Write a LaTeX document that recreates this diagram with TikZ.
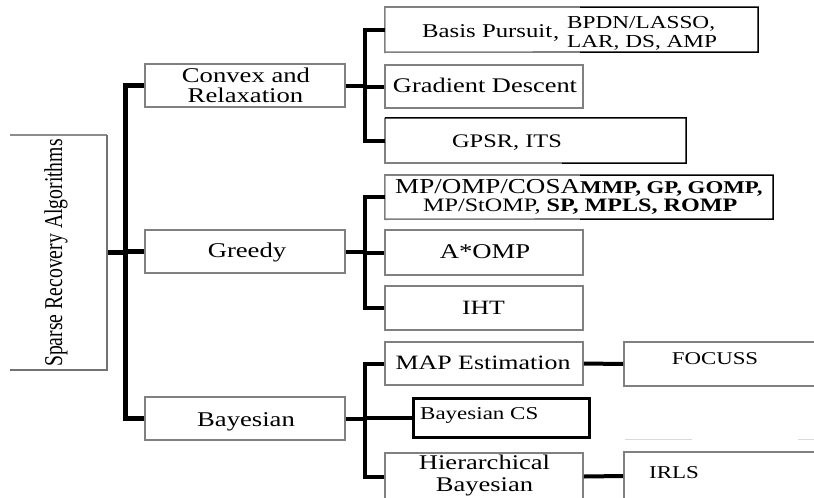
\documentclass[tikz,border=0pt]{standalone}
\usepackage{fontspec}
\setmainfont{Liberation Serif}
\usepackage{graphicx}
\newcommand{\T}[2]{\scalebox{1.27}[1]{\fontsize{#1}{#1}\selectfont #2}}
\tikzset{
  gbox/.style={draw=black!50, line width=1.6pt, fill=white, inner sep=0pt},
  ebox/.style={fill=white, inner sep=0pt},
  gline/.style={draw=black!50, line width=1.6pt},
  bline/.style={draw=black, line width=1.5pt},
  conn/.style={draw=black, line width=4pt, line join=miter},
  trunk/.style={draw=black, line width=5pt, line join=miter},
  txt/.style={inner sep=0pt, text=black},
}
\begin{document}
\begin{tikzpicture}[x=1pt,y=-1pt]
\useasboundingbox (0,0) rectangle (814,498);
\fill[white] (0,0) rectangle (814,498);

% junction coordinates
\coordinate (t0) at (125,0);
\coordinate (t1) at (365,0);

% root placeholder
\node[inner sep=0pt, minimum width=97pt, minimum height=235pt] (root) at (58.5,252.5) {};

\node[gbox, minimum width=200pt, minimum height=43pt] (conv) at (245,85.5) {};
\node[gbox, minimum width=200pt, minimum height=43pt] (greedy) at (245,251.5) {};
\node[gbox, minimum width=200pt, minimum height=43pt] (bayes) at (245,418.5) {};

% connectors
\draw[trunk] (root.east) -- (root.east -| t0);
\draw[trunk] (conv.west) -- (conv.west -| t0) -- (bayes.west -| t0) -- (bayes.west);
\draw[trunk] (greedy.west -| t0) -- (greedy.west);

% level-2 boxes
\node[ebox, minimum width=373pt, minimum height=45pt] (bp) at (571.5,29.5) {};
\node[gbox, minimum width=198pt, minimum height=43pt] (gd) at (484,86.5) {};
\node[ebox, minimum width=301pt, minimum height=45pt] (gpsr) at (535.5,140.5) {};
\node[ebox, minimum width=388pt, minimum height=44pt] (mp) at (579,197) {};
\node[gbox, minimum width=198pt, minimum height=45pt] (aomp) at (484,252.5) {};
\node[gbox, minimum width=198pt, minimum height=44pt] (iht) at (484,308) {};
\node[gbox, minimum width=198pt, minimum height=43pt] (map) at (484,363.5) {};
\node[draw=black, line width=3pt, fill=white, inner sep=0pt, minimum width=176pt, minimum height=39pt] (bcs) at (501,417.5) {};
\node[gbox, minimum width=198pt, minimum height=47pt] (hier) at (484,476.5) {};
\node[gbox, minimum width=192pt, minimum height=44pt] (focuss) at (720,364) {};
\node[gbox, minimum width=192pt, minimum height=48pt] (irls) at (720,476) {};

% two-tone outlines of the wide boxes
\draw[gline] (580,7) -| (bp.south west) -- (580,52);
\draw[bline] (580,7) -| (bp.south east) -- (580,52);
\draw[gline] (gpsr.north west) |- (562,163);
\draw[bline] (gpsr.north west) -| (gpsr.south east) -- (562,163);
\draw[gline] (580,175) -| (mp.south west) -- (580,219);
\draw[bline] (580,175) -| (mp.south east) -- (580,219);

% left root box outline
\draw[draw=black!45, line width=1.2pt] (10,135) -- (107,135);
\draw[draw=black!55, line width=2pt] (107,135) -- (107,370) -- (10,370);

% faint line
\draw[black!15, line width=0.8pt] (625,439) -- (692,439);
\draw[black!15, line width=0.8pt] (798,439) -- (814,439);

% level-1 to level-2 connectors
\draw[conn] (conv.east) -- (conv.east -| t1);
\draw[conn] (bp.west) -- (bp.west -| t1) -- (gpsr.west -| t1) -- (gpsr.west);
\draw[conn] (gd.west -| t1) -- (gd.west);

\draw[conn] (greedy.east) -- (greedy.east -| t1);
\draw[conn] (mp.west) -- (mp.west -| t1) -- (iht.west -| t1) -- (iht.west);
\draw[conn] (aomp.west -| t1) -- (aomp.west);

\draw[conn] (bayes.east) -- (bayes.east -| t1);
\draw[conn] (map.west) -- (map.west -| t1) -- (hier.west -| t1) -- (hier.west);
\draw[conn] (bcs.west -| t1) -- (bcs.west);

\draw[conn] (map.east) -- (focuss.west);
\draw[conn] (hier.east) -- (irls.west);

% texts
\node[txt, anchor=base west, rotate=90] (root-t) at (62,367) {\scalebox{1}[1.3]{\fontsize{19.7}{20}\selectfont Sparse Recovery Algorithms}};
\node[txt, anchor=base] (conv-a) at (246,82) {\T{21}{Convex and}};
\node[txt, anchor=base] (conv-b) at (245.5,102) {\T{21}{Relaxation}};
\node[txt, anchor=base] (greedy-t) at (247,257) {\T{21}{Greedy}};
\node[txt, anchor=base] (bayes-t) at (246,426) {\T{21}{Bayesian}};

\node[txt, anchor=base west] (bp-t) at (422,37) {\T{19.5}{Basis Pursuit}};
\node[txt, anchor=base west] (bp-c) at (553,38) {\T{19.5}{,}};
\node[txt, anchor=base west] (bp-l1) at (567,28) {\T{18.3}{BPDN/LASSO,}};
\node[txt, anchor=base west] (bp-l2) at (567,47) {\T{18.3}{LAR, DS, AMP}};
\node[txt, anchor=base] (gd-t) at (485,92) {\T{20.8}{Gradient Descent}};
\node[txt, anchor=base] (gpsr-t) at (507,147) {\T{19.2}{GPSR, ITS}};

\node[txt, anchor=base west] (mp-a) at (395,193) {\T{21.3}{MP/OMP/COSA}};
\node[txt, anchor=base west] (mp-b) at (580,193) {\T{18}{\bfseries MMP, GP, GOMP,}};
\node[txt, anchor=base west] (mp-c) at (423,211) {\T{19}{MP/StOMP, \bfseries SP, MPLS, ROMP}};
\node[txt, anchor=base] (aomp-t) at (485,258) {\T{21}{A*OMP}};
\node[txt, anchor=base] (iht-t) at (483.5,314) {\T{20.3}{IHT}};

\node[txt, anchor=base] (map-t) at (483,369) {\T{20.4}{MAP Estimation}};
\node[txt, anchor=base] (focuss-t) at (715,364) {\T{18}{FOCUSS}};
\node[txt, anchor=base west] (bcs-t) at (420,419) {\T{18.1}{Bayesian CS}};
\node[txt, anchor=base] (hier-a) at (484.5,469) {\T{20.9}{Hierarchical}};
\node[txt, anchor=base] (hier-b) at (484.5,491) {\T{20.9}{Bayesian}};
\node[txt, anchor=base west] (irls-t) at (649,478) {\T{18.1}{IRLS}};
\end{tikzpicture}
\end{document}
